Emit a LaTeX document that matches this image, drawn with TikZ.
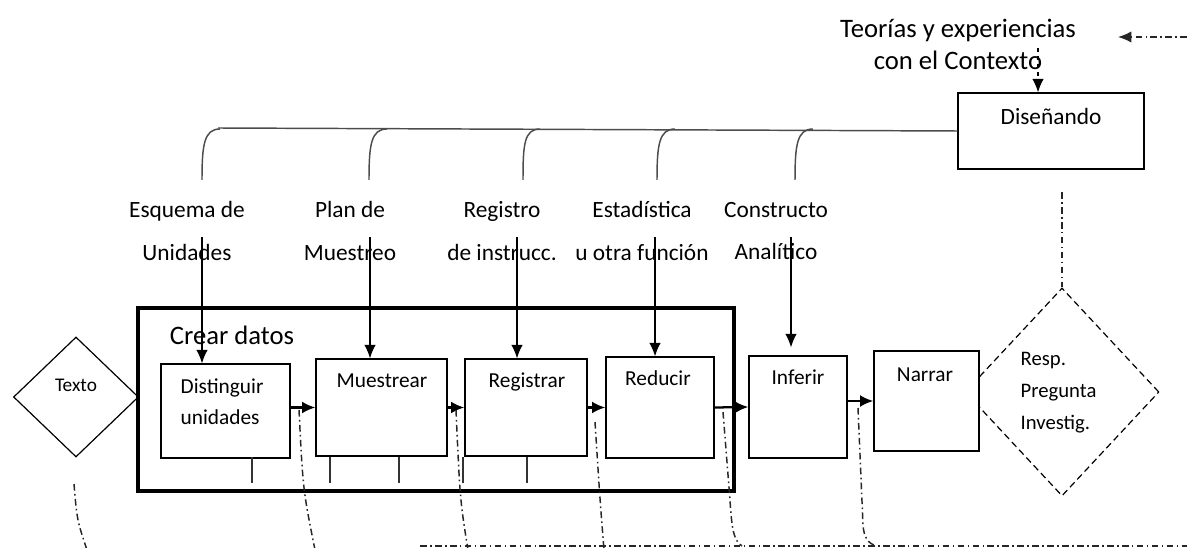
\documentclass[tikz,border=0pt]{standalone}
\usepackage{fontspec}
\setmainfont{Carlito}
\usetikzlibrary{shapes.geometric,arrows.meta,fit}

\tikzset{
	caja/.style={draw, line width=1pt, fill=white, inner sep=0pt},
	rombo/.style={draw, diamond, inner sep=0pt, line width=0.9pt},
	paso/.style={-{Latex[length=10pt,width=9pt]}, line width=1.7pt},
	baja/.style={-{Latex[length=10pt,width=8.5pt]}, line width=0.9pt},
	rama/.style={line width=1.1pt, black!70},
	guia/.style={line width=1.1pt, black!85, dash pattern=on 5pt off 2.5pt on 1.2pt off 2.5pt},
	marca/.style={line width=1pt, black!80},
	etiq/.style={font=\fontsize{17.5}{32}\selectfont, align=center},
	txtcaja/.style={font=\fontsize{16}{23}\selectfont, align=left},
}

\begin{document}
\begin{tikzpicture}[x=0.75pt,y=-0.75pt]
	\useasboundingbox (0,0) rectangle (1187,548);

	% contexto y disenno
	\node[font=\fontsize{20}{24}\selectfont, align=center] (teo) at (958,44) {Teorías y experiencias\\con el Contexto};
	\node[caja, fit={(958,93) (1144,169)}] (dsn) {};
	\node[etiq] (tdsn) at (1051,116) {Diseñando};
	\coordinate (q0) at (1187,37);
	\coordinate (q1) at (1118,37);
	\draw[guia,-{Latex[length=10pt,width=8.5pt]}] (q0) -- (q1);
	\coordinate (t0) at (1038,48);
	\draw[baja,dashed] (t0) -- (t0 |- dsn.north);

	% ramas
	\draw[rama] (dsn.west) -- (218,128);
	\foreach \a/\b in {220/202, 387/369, 540/523, 675/657, 813/795}{
		\draw[rama] (\a,129) .. controls (\a-16,129) and (\b,145) .. (\b,180);
	}

	\node[etiq] (lab1) at (187,231) {Esquema de\\Unidades};
	\node[etiq] (lab2) at (350,231) {Plan de\\Muestreo};
	\node[etiq] (lab3) at (502,231) {Registro\\de instrucc.};
	\node[etiq] (lab4) at (642,231) {Estadística\\u otra función};
	\node[etiq] (lab5) at (776,231) {Constructo\\Analítico};

	% crear datos
	\node[rombo, minimum width=93.75pt, minimum height=90pt] (txt) at (76,397) {};
	\node[font=\fontsize{14.5}{17}\selectfont] (ttxt) at (76,385) {Texto};
	\node[draw, line width=3.5pt, inner sep=0pt, fit={(138,308) (734,491)}] (crear) {};
	\node[font=\fontsize{20}{24}\selectfont] (tcrear) at (232,335) {Crear datos};

	\node[caja, fit={(161,364) (290,458)}] (dis) {};
	\node[caja, fit={(316,359) (447,456)}] (mue) {};
	\node[caja, fit={(465,359) (587,456)}] (reg) {};
	\node[caja, fit={(606,357) (714,458)}] (red) {};
	\node[caja, fit={(749,356) (847,458)}] (inf) {};

	\node[txtcaja, anchor=west] (tdis) at (176,402) {Distinguir\\unidades};
	\node[txtcaja] (tmue) at (382,381) {Muestrear};
	\node[txtcaja] (treg) at (527,382) {Registrar};
	\node[txtcaja] (tred) at (658,378) {Reducir};
	\node[txtcaja] (tinf) at (798,377) {Inferir};

	\foreach \x in {252,330,399,463,527}{
		\draw[marca] (\x,457) -- (\x,483);
	}

	% respuesta
	\node[rombo, dashed, dash pattern=on 5pt off 3pt, minimum width=145.5pt, minimum height=156pt] (resp) at (1062,392) {};
	\node[caja, fit={(874,351) (979,451)}] (nar) {};
	\node[txtcaja] (tnar) at (925,375) {Narrar};
	\node[font=\fontsize{15.5}{24}\selectfont, align=left, anchor=west] (tresp) at (1016,393) {Resp.\\Pregunta\\Investig.};

	% flechas
	\foreach \e/\x/\b in {e1/202/dis, e2/370/mue, e3/517/reg, e4/655/red}{
		\coordinate (\e) at (\x,237);
		\draw[baja] (\e) -- (\e |- \b.north);
	}
	\coordinate (e5) at (791,237);
	\draw[baja,shorten >=6pt] (e5) -- (e5 |- inf.north);

	\draw[paso] (dis.east |- mue.west) -- (mue.west);
	\draw[paso] (mue.east) -- (reg.west);
	\draw[paso] (reg.east) -- (red.west);
	\draw[paso] (red.east) -- (inf.west);
	\draw[paso] (inf.east |- nar.west) -- (nar.west);

	% lineas de retorno
	\coordinate (d0) at (1062,192);
	\draw[guia] (d0) -- (resp.north);
	\draw[guia] (74,484) .. controls (77,520) .. (87,550);
	\draw[guia] (299,410) .. controls (303,490) .. (315,550);
	\draw[guia] (456,410) .. controls (460,500) .. (468,550);
	\draw[guia] (595,422) .. controls (600,500) .. (604,550);
	\draw[guia] (723,412) -- (730,500) .. controls (732,535) and (735,541) .. (742,546);
	\draw[guia] (858,408) -- (863,525) .. controls (864,538) and (868,543) .. (876,546);
	\draw[guia, line width=1.3pt] (420,546) -- (1190,546);
\end{tikzpicture}
\end{document}
